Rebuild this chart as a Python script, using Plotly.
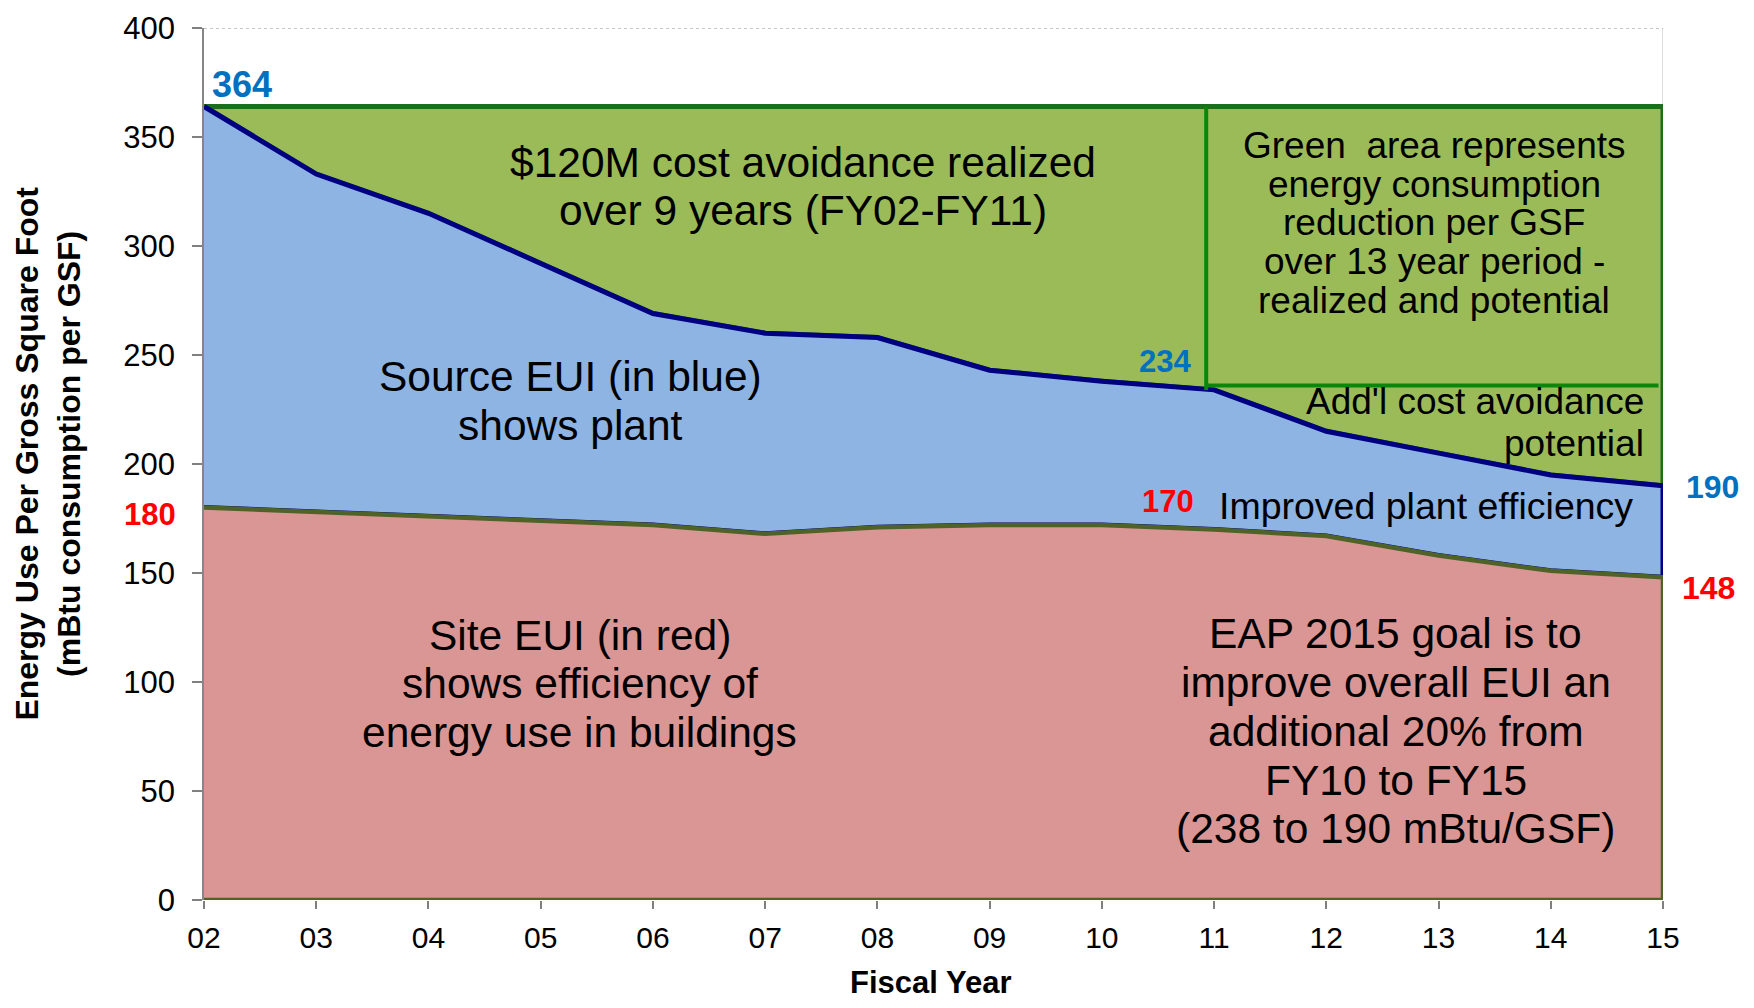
import plotly.graph_objects as go

# ---------------- data ----------------
fiscal_years = [2, 3, 4, 5, 6, 7, 8, 9, 10, 11, 12, 13, 14, 15]
year_labels = ["02", "03", "04", "05", "06", "07", "08", "09", "10", "11", "12", "13", "14", "15"]
source_eui = [364, 333, 315, 292, 269, 260, 258, 243, 238, 234, 215, 205, 195, 190]
site_eui = [180, 178, 176, 174, 172, 168, 171, 172, 172, 170, 167, 158, 151, 148]
baseline_level = 364          # FY02 source EUI, top of the green area
divider_year = 11
divider_level = 236
y_ticks = [0, 50, 100, 150, 200, 250, 300, 350, 400]

FONT = "Liberation Sans, Arial, sans-serif"
GREEN_FILL = "#9BBB59"
BLUE_FILL = "#8EB4E3"
RED_FILL = "#D99694"
NAVY = "#000080"
OLIVE = "#4F6228"
DARK_GREEN = "#1B6E1B"
MID_GREEN = "#0A870A"
BLUE_TXT = "#0070C0"
RED_TXT = "#FF0000"

fig = go.Figure()

rev_years = fiscal_years[::-1]

# green area: from baseline down to source EUI
fig.add_trace(go.Scatter(
    x=fiscal_years + rev_years,
    y=[baseline_level] * len(fiscal_years) + source_eui[::-1],
    fill="toself", fillcolor=GREEN_FILL, mode="lines",
    line=dict(color=DARK_GREEN, width=5), hoverinfo="skip", showlegend=False))

# blue area: source EUI down to site EUI
fig.add_trace(go.Scatter(
    x=fiscal_years + rev_years,
    y=source_eui + site_eui[::-1],
    fill="toself", fillcolor=BLUE_FILL, mode="lines",
    line=dict(color=NAVY, width=5), hoverinfo="skip", showlegend=False))

# red area: site EUI down to zero
fig.add_trace(go.Scatter(
    x=fiscal_years + rev_years,
    y=site_eui + [0] * len(fiscal_years),
    fill="toself", fillcolor=RED_FILL, mode="lines",
    line=dict(color=OLIVE, width=4.5), hoverinfo="skip", showlegend=False))

# light right border and dotted top line of the plot area (under traces)
fig.add_shape(type="line", xref="x", yref="y", x0=fiscal_years[-1], x1=fiscal_years[-1],
              y0=0, y1=y_ticks[-1], line=dict(color="#D0D0D0", width=1.5), layer="below")
fig.add_shape(type="line", xref="x", yref="y", x0=fiscal_years[0], x1=fiscal_years[-1],
              y0=y_ticks[-1], y1=y_ticks[-1], line=dict(color="#909090", width=1.2, dash="dot"),
              layer="below")

# divider lines inside the green area
div_idx = fiscal_years.index(divider_year)
fig.add_shape(type="line", xref="x", yref="y", x0=divider_year - 0.07, x1=divider_year - 0.07,
              y0=source_eui[div_idx], y1=baseline_level, line=dict(color=MID_GREEN, width=4))
fig.add_shape(type="line", xref="x", yref="y", x0=divider_year - 0.07, x1=fiscal_years[-1] - 0.04,
              y0=divider_level, y1=divider_level, line=dict(color=MID_GREEN, width=4))


def add_block(lines, x, y, spacing, size, color="#000000", xanchor="center", bold=False, xshift=0):
    for i, line in enumerate(lines):
        fig.add_annotation(x=x, y=y, xref="x", yref="y", text=line, showarrow=False,
                           xanchor=xanchor, yanchor="middle", yshift=-i * spacing, xshift=xshift,
                           font=dict(family=FONT, size=size, color=color,
                                     weight="bold" if bold else "normal"))


# value labels
add_block(["364"], 2.34, 374.3, 0, 36, BLUE_TXT, bold=True)
add_block(["234"], 10.56, 246.8, 0, 31, BLUE_TXT, bold=True)
add_block(["170"], 10.59, 182.9, 0, 31, RED_TXT, bold=True)
add_block(["180"], fiscal_years[0], 177.0, 0, 31, RED_TXT, bold=True, xshift=-54)
add_block(["190"], fiscal_years[-1], 189.3, 0, 32, BLUE_TXT, bold=True, xshift=49)
add_block(["148"], fiscal_years[-1], 143.3, 0, 32, RED_TXT, bold=True, xshift=45)

# explanatory text
add_block(["$120M cost avoidance realized", "over 9 years (FY02-FY11)"], 7.34, 338.4, 48.5, 42.5)
add_block(["Source EUI (in blue)", "shows plant"], 5.27, 240.0, 48.5, 42.5)
add_block(["Site EUI (in red)", "shows efficiency of", "energy use in buildings"], 5.35, 121.5, 48.5, 42.5)
add_block(["EAP 2015 goal is to", "improve overall EUI an", "additional 20% from",
           "FY10 to FY15", "(238 to 190 mBtu/GSF)"], 12.62, 122.2, 48.8, 42.5)
add_block(["Green  area represents", "energy consumption", "reduction per GSF",
           "over 13 year period -", "realized and potential"], 12.96, 346.0, 38.6, 37)
add_block(["Add'l cost avoidance", "potential"], 14.85, 228.5, 42, 37, xanchor="right")
add_block(["Improved plant efficiency"], 12.89, 180.6, 0, 37.5)

# axis titles
fig.add_annotation(xref="paper", yref="paper", x=-0.1069, y=0.512, showarrow=False,
                   text="Energy Use Per Gross Square Foot<br>(mBtu consumption per GSF)",
                   textangle=-90, xanchor="center", yanchor="middle",
                   font=dict(family=FONT, size=32, color="#000000", weight="bold"))
fig.add_annotation(xref="paper", yref="paper", x=0.498, y=-0.095, showarrow=False,
                   text="Fiscal Year", xanchor="center", yanchor="middle",
                   font=dict(family=FONT, size=31, color="#000000", weight="bold"))

fig.update_xaxes(range=[fiscal_years[0], fiscal_years[-1]], tickmode="array",
                 tickvals=fiscal_years, ticktext=year_labels,
                 ticks="outside", ticklen=8, tickwidth=1.5, tickcolor="#808080",
                 showline=False, showgrid=False, zeroline=False, automargin=False,
                 tickfont=dict(family=FONT, size=30, color="#000000"),
                 ticklabelstandoff=3, ticklabeloverflow="allow")
fig.update_yaxes(range=[0, 400], tickmode="array", tickvals=y_ticks,
                 ticks="outside", ticklen=10, tickwidth=1.5, tickcolor="#808080",
                 showline=True, linecolor="#868686", linewidth=1.5,
                 showgrid=False, zeroline=False, automargin=False,
                 tickfont=dict(family=FONT, size=31, color="#000000"),
                 ticklabelstandoff=11, ticklabeloverflow="allow")

# figure is 16px smaller than the window to leave room for the page's 8px body margin
fig.update_layout(width=1738, height=992,
                  margin=dict(l=196, r=83, t=20, b=100),
                  plot_bgcolor="white", paper_bgcolor="white",
                  font=dict(family=FONT), showlegend=False)

fig.write_html("out.html")
